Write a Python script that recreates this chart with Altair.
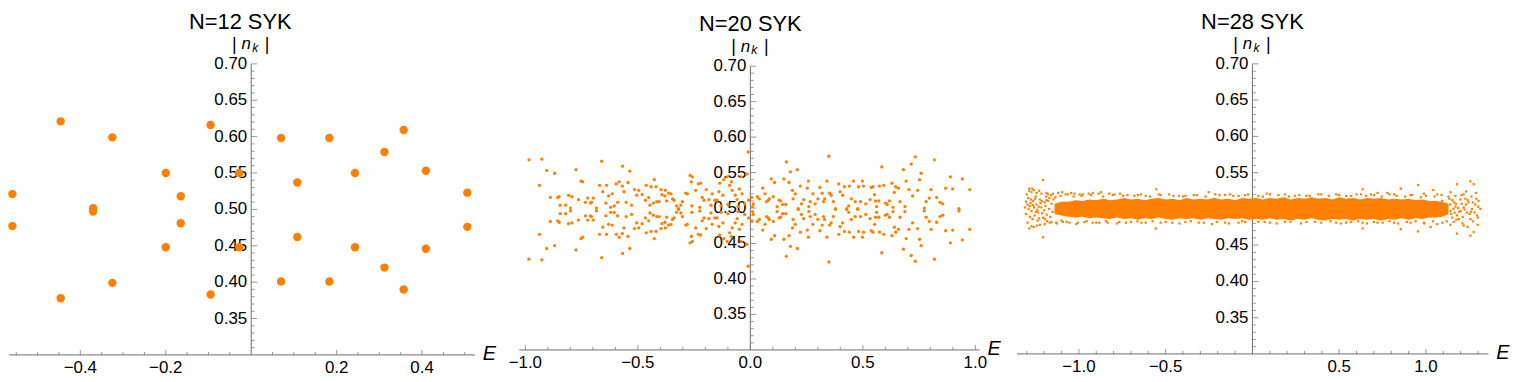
import altair as alt
import pandas as pd

ORANGE = "#ff8000"
AXIS = "#6e6e6e"
FONT = "Liberation Sans"

# ---------------- N=12 panel ----------------
e12 = [-0.559, -0.559, -0.446, -0.446, -0.370, -0.370, -0.325, -0.325, -0.200, -0.200,
       -0.165, -0.165, -0.095, -0.095, -0.028, -0.028, 0.070, 0.070, 0.108, 0.108,
       0.183, 0.183, 0.243, 0.243, 0.312, 0.312, 0.357, 0.357, 0.409, 0.409, 0.506, 0.506]
n12 = [0.521, 0.477, 0.621, 0.378, 0.5015, 0.497, 0.599, 0.399, 0.550, 0.448,
       0.518, 0.481, 0.616, 0.383, 0.550, 0.448, 0.598, 0.401, 0.537, 0.462,
       0.598, 0.401, 0.550, 0.448, 0.579, 0.420, 0.609, 0.390, 0.553, 0.446, 0.523, 0.476]

# ---------------- N=20 panel: (E, upper n, lower n) ----------------
p20_a = [(-0.984, 0.568, 0.428), (-0.927, 0.569, 0.427), (-0.905, 0.553, 0.443), (-0.870, 0.549, 0.447),
         (-0.937, 0.532, 0.463), (-0.889, 0.515, 0.481), (-0.856, 0.515, 0.482), (-0.850, 0.516, 0.480),
         (-0.845, 0.504, 0.492), (-0.821, 0.504, 0.492), (-0.808, 0.518, 0.478), (-0.793, 0.516, 0.479),
         (-0.799, 0.500, 0.496), (-0.775, 0.554, 0.441), (-0.764, 0.512, 0.483), (-0.753, 0.538, 0.457),
         (-0.745, 0.537, 0.459), (-0.733, 0.508, 0.489), (-0.723, 0.514, 0.483), (-0.711, 0.507, 0.489),
         (-0.706, 0.508, 0.488), (-0.698, 0.514, 0.483), (-0.684, 0.500, 0.496), (-0.670, 0.532, 0.463),
         (-0.661, 0.566, 0.430), (-0.656, 0.523, 0.473), (-0.642, 0.507, 0.489), (-0.639, 0.532, 0.463),
         (-0.630, 0.517, 0.477), (-0.621, 0.501, 0.494), (-0.614, 0.520, 0.476), (-0.605, 0.503, 0.494),
         (-0.596, 0.534, 0.463), (-0.590, 0.508, 0.489), (-0.583, 0.537, 0.459), (-0.569, 0.531, 0.464),
         (-0.568, 0.559, 0.436), (-0.562, 0.523, 0.472), (-0.552, 0.508, 0.488), (-0.544, 0.536, 0.460),
         (-0.536, 0.552, 0.443), (-0.528, 0.504, 0.491)]
p20_b = [(-0.515, 0.526, 0.471), (-0.496, 0.525, 0.472), (-0.505, 0.518, 0.479), (-0.481, 0.519, 0.478),
         (-0.463, 0.532, 0.465), (-0.441, 0.530, 0.467), (-0.427, 0.540, 0.457), (-0.419, 0.530, 0.467),
         (-0.466, 0.511, 0.486), (-0.452, 0.515, 0.482), (-0.446, 0.504, 0.493), (-0.431, 0.507, 0.490),
         (-0.416, 0.509, 0.488), (-0.405, 0.509, 0.488), (-0.397, 0.526, 0.471), (-0.378, 0.525, 0.472),
         (-0.393, 0.519, 0.478), (-0.380, 0.517, 0.480), (-0.372, 0.510, 0.487), (-0.364, 0.521, 0.476),
         (-0.353, 0.520, 0.477), (-0.346, 0.513, 0.484), (-0.339, 0.511, 0.486), (-0.328, 0.503, 0.494),
         (-0.319, 0.499, 0.498), (-0.309, 0.504, 0.493), (-0.302, 0.509, 0.488), (-0.287, 0.521, 0.476),
         (-0.280, 0.520, 0.477), (-0.268, 0.546, 0.451), (-0.258, 0.544, 0.453), (-0.262, 0.537, 0.460),
         (-0.243, 0.525, 0.472), (-0.231, 0.534, 0.463), (-0.221, 0.535, 0.462), (-0.214, 0.515, 0.482),
         (-0.206, 0.511, 0.486), (-0.196, 0.526, 0.471), (-0.184, 0.512, 0.485), (-0.170, 0.520, 0.477),
         (-0.158, 0.511, 0.486), (-0.148, 0.511, 0.486), (-0.136, 0.535, 0.462), (-0.140, 0.523, 0.474),
         (-0.122, 0.518, 0.479), (-0.118, 0.540, 0.457), (-0.103, 0.544, 0.453), (-0.092, 0.532, 0.465),
         (-0.081, 0.525, 0.472), (-0.084, 0.537, 0.460), (-0.067, 0.518, 0.479), (-0.059, 0.512, 0.485),
         (-0.049, 0.527, 0.470), (-0.037, 0.520, 0.477), (-0.040, 0.544, 0.453), (-0.015, 0.548, 0.449),
         (-0.008, 0.511, 0.486), (-0.025, 0.506, 0.491), (-0.055, 0.502, 0.495), (-0.100, 0.505, 0.492),
         (-0.130, 0.503, 0.494), (-0.175, 0.504, 0.493), (-0.225, 0.501, 0.496), (-0.260, 0.503, 0.494),
         (-0.010, 0.579, 0.418)]
p20_c = [(0.006, 0.515, 0.482), (0.013, 0.506, 0.491), (0.010, 0.502, 0.495), (0.031, 0.516, 0.481),
         (0.040, 0.513, 0.484), (0.055, 0.528, 0.469), (0.065, 0.520, 0.477), (0.072, 0.509, 0.488),
         (0.080, 0.511, 0.486), (0.084, 0.513, 0.484), (0.093, 0.541, 0.456), (0.108, 0.536, 0.461),
         (0.102, 0.516, 0.481), (0.119, 0.502, 0.495), (0.128, 0.511, 0.486), (0.134, 0.510, 0.487),
         (0.143, 0.505, 0.492), (0.157, 0.505, 0.492), (0.160, 0.565, 0.432), (0.149, 0.541, 0.456),
         (0.172, 0.536, 0.461), (0.178, 0.551, 0.446), (0.187, 0.525, 0.472), (0.190, 0.513, 0.484),
         (0.200, 0.520, 0.477), (0.209, 0.554, 0.443), (0.213, 0.499, 0.498), (0.222, 0.531, 0.466),
         (0.227, 0.506, 0.491), (0.237, 0.512, 0.485), (0.253, 0.528, 0.469), (0.258, 0.538, 0.459),
         (0.260, 0.502, 0.495), (0.266, 0.509, 0.488), (0.278, 0.520, 0.477), (0.288, 0.506, 0.491),
         (0.300, 0.513, 0.484), (0.309, 0.529, 0.468), (0.319, 0.521, 0.476), (0.325, 0.509, 0.488),
         (0.330, 0.513, 0.484), (0.340, 0.538, 0.459), (0.349, 0.573, 0.424), (0.352, 0.521, 0.476),
         (0.359, 0.518, 0.479), (0.369, 0.509, 0.488), (0.378, 0.499, 0.498), (0.393, 0.534, 0.463),
         (0.399, 0.523, 0.474), (0.410, 0.518, 0.479), (0.418, 0.530, 0.467), (0.428, 0.499, 0.498),
         (0.437, 0.503, 0.494), (0.440, 0.531, 0.466), (0.449, 0.513, 0.484), (0.459, 0.538, 0.459),
         (0.466, 0.509, 0.488), (0.477, 0.499, 0.498), (0.481, 0.530, 0.467), (0.498, 0.538, 0.459),
         (0.490, 0.509, 0.488), (0.503, 0.531, 0.466), (0.513, 0.506, 0.491)]
p20_d = [(0.537, 0.529, 0.468), (0.545, 0.530, 0.466), (0.552, 0.519, 0.477), (0.532, 0.512, 0.485),
         (0.556, 0.510, 0.487), (0.571, 0.510, 0.487), (0.574, 0.531, 0.466), (0.593, 0.532, 0.463),
         (0.584, 0.558, 0.437), (0.600, 0.507, 0.490), (0.608, 0.505, 0.491), (0.561, 0.502, 0.494),
         (0.618, 0.510, 0.487), (0.629, 0.535, 0.461), (0.634, 0.501, 0.495), (0.640, 0.522, 0.473),
         (0.646, 0.530, 0.466), (0.658, 0.528, 0.470), (0.665, 0.509, 0.487), (0.680, 0.554, 0.442),
         (0.687, 0.502, 0.495), (0.692, 0.538, 0.457), (0.705, 0.526, 0.470), (0.715, 0.562, 0.433),
         (0.721, 0.517, 0.479), (0.733, 0.572, 0.425), (0.743, 0.525, 0.471), (0.752, 0.540, 0.456),
         (0.759, 0.549, 0.447), (0.773, 0.500, 0.496), (0.781, 0.509, 0.487), (0.795, 0.514, 0.481),
         (0.803, 0.526, 0.470), (0.818, 0.568, 0.428), (0.828, 0.515, 0.480), (0.843, 0.508, 0.488),
         (0.855, 0.506, 0.490), (0.868, 0.528, 0.468), (0.889, 0.544, 0.451), (0.899, 0.527, 0.469),
         (0.927, 0.499, 0.496), (0.942, 0.541, 0.455), (0.975, 0.526, 0.470)]

# ---------------- N=28 panel: dense core band (ragged edges) + scattered fringe ----------------
core_e = [-1.14, -1.10, -1.06, -1.02, -0.98, -0.94, -0.90, -0.86, -0.82, -0.78, -0.74,
          -0.70, -0.66, -0.62, -0.58, -0.54, -0.50, -0.46, -0.42, -0.38, -0.34, -0.30, -0.26, -0.22,
          -0.18, -0.14, -0.10, -0.06, -0.02, 0.02, 0.06, 0.10, 0.14, 0.18, 0.22, 0.26, 0.30, 0.34,
          0.38, 0.42, 0.46, 0.50, 0.54, 0.58, 0.62, 0.66, 0.70, 0.74, 0.78, 0.82, 0.86, 0.90, 0.94,
          0.98, 1.02, 1.06, 1.10, 1.13]
core_hi = [0.507, 0.510, 0.510, 0.512, 0.511, 0.513, 0.512, 0.514, 0.512, 0.513, 0.515,
           0.513, 0.514, 0.512, 0.514, 0.515, 0.513, 0.514, 0.512, 0.515, 0.513, 0.514, 0.513, 0.515,
           0.513, 0.514, 0.512, 0.515, 0.514, 0.515, 0.513, 0.515, 0.514, 0.516, 0.513, 0.515, 0.514, 0.516,
           0.514, 0.515, 0.513, 0.516, 0.514, 0.515, 0.513, 0.515, 0.514, 0.515, 0.513, 0.514, 0.513, 0.514, 0.512,
           0.513, 0.511, 0.511, 0.509, 0.507]
core_lo = [0.493, 0.491, 0.489, 0.488, 0.489, 0.487, 0.488, 0.487, 0.486, 0.488, 0.486,
           0.487, 0.485, 0.487, 0.486, 0.488, 0.486, 0.485, 0.487, 0.486, 0.487, 0.485, 0.487, 0.486,
           0.485, 0.487, 0.486, 0.487, 0.485, 0.486, 0.485, 0.487, 0.485, 0.486, 0.484, 0.486, 0.485, 0.487,
           0.485, 0.484, 0.486, 0.485, 0.486, 0.484, 0.486, 0.485, 0.486, 0.484, 0.486, 0.485, 0.487, 0.485, 0.487,
           0.486, 0.488, 0.488, 0.490, 0.493]

fringe_left = [(-1.206, 0.540), (-1.286, 0.528), (-1.269, 0.528), (-1.286, 0.525), (-1.273, 0.523), (-1.260, 0.526),
               (-1.244, 0.522), (-1.229, 0.525), (-1.216, 0.521), (-1.187, 0.522), (-1.178, 0.520), (-1.149, 0.521),
               (-1.120, 0.522), (-1.096, 0.523), (-1.076, 0.520), (-1.044, 0.522), (-1.025, 0.521), (-0.996, 0.520),
               (-0.977, 0.520), (-0.943, 0.521), (-0.920, 0.522), (-0.886, 0.521), (-0.872, 0.523), (-0.825, 0.521),
               (-0.805, 0.519), (-0.763, 0.521), (-0.720, 0.519), (-0.681, 0.518), (-0.643, 0.520), (-0.615, 0.518),
               (-0.554, 0.527), (-0.529, 0.519), (-0.481, 0.520), (-0.424, 0.518), (-0.386, 0.518), (-0.338, 0.519),
               (-0.252, 0.523), (-0.214, 0.520), (-0.157, 0.519), (-0.128, 0.520), (-0.080, 0.518), (-0.042, 0.519),
               (-1.206, 0.461), (-1.286, 0.473), (-1.273, 0.476), (-1.260, 0.475), (-1.241, 0.477), (-1.225, 0.478),
               (-1.197, 0.479), (-1.168, 0.481), (-1.130, 0.481), (-1.092, 0.482), (-1.054, 0.481), (-1.006, 0.481),
               (-0.968, 0.482), (-0.920, 0.481), (-0.882, 0.481), (-0.834, 0.481), (-0.767, 0.482), (-0.729, 0.481),
               (-0.662, 0.483), (-0.615, 0.481), (-0.557, 0.473), (-0.529, 0.481), (-0.462, 0.481), (-0.386, 0.482),
               (-0.309, 0.481), (-0.233, 0.479), (-0.157, 0.481), (-0.080, 0.481), (-0.042, 0.482),
               (-1.305, 0.510), (-1.305, 0.493), (-1.292, 0.515), (-1.283, 0.504), (-1.273, 0.497), (-1.263, 0.511),
               (-1.254, 0.491), (-1.244, 0.506), (-1.235, 0.495), (-1.225, 0.513), (-1.216, 0.502), (-1.206, 0.488),
               (-1.197, 0.509), (-1.267, 0.486), (-1.248, 0.517), (-1.229, 0.487), (-1.311, 0.502),
               (-1.290, 0.500), (-1.278, 0.508), (-1.258, 0.502), (-1.239, 0.499), (-1.221, 0.508), (-1.212, 0.494),
               (-1.300, 0.520), (-1.296, 0.481), (-1.282, 0.489), (-1.252, 0.514), (-1.238, 0.484),
               (-1.200, 0.498), (-1.192, 0.504), (-1.185, 0.492), (-1.178, 0.511), (-1.172, 0.500), (-1.165, 0.489),
               (-1.158, 0.507), (-1.152, 0.496), (-1.146, 0.513), (-1.170, 0.515), (-1.196, 0.486), (-1.188, 0.512),
               (-1.264, 0.505), (-1.276, 0.513), (-1.296, 0.506), (-1.247, 0.496), (-1.231, 0.503), (-1.214, 0.511),
               (-1.189, 0.517), (-1.183, 0.483), (-1.160, 0.519), (-1.158, 0.482), (-1.135, 0.516), (-1.128, 0.480),
               (-1.105, 0.518), (-1.100, 0.484), (-1.062, 0.520), (-1.070, 0.482), (-1.030, 0.517), (-1.015, 0.479),
               (-0.985, 0.518), (-0.955, 0.483), (-0.930, 0.519), (-0.900, 0.481), (-0.860, 0.517), (-0.845, 0.483),
               (-0.795, 0.520), (-0.780, 0.480), (-0.745, 0.518), (-0.700, 0.482), (-0.660, 0.519), (-0.640, 0.481),
               (-0.590, 0.517), (-0.575, 0.483), (-0.540, 0.520), (-0.500, 0.482), (-0.455, 0.518), (-0.420, 0.480),
               (-0.400, 0.517), (-0.355, 0.483), (-0.320, 0.519), (-0.280, 0.481), (-0.270, 0.517), (-0.205, 0.482),
               (-0.190, 0.519), (-0.135, 0.480), (-0.110, 0.518), (-0.060, 0.483), (-0.025, 0.520)]
fringe_right = [(0.635, 0.527), (0.855, 0.528), (0.954, 0.533), (1.042, 0.526), (1.179, 0.534), (1.256, 0.538),
                (1.275, 0.534), (1.217, 0.520), (1.141, 0.523), (1.065, 0.520), (0.988, 0.521), (0.912, 0.519),
                (0.817, 0.520), (0.778, 0.522), (0.721, 0.522), (0.683, 0.520), (0.626, 0.520), (0.569, 0.518),
                (0.483, 0.520), (0.397, 0.520), (0.311, 0.518), (0.244, 0.518), (0.187, 0.520), (0.101, 0.520),
                (0.034, 0.518), (0.082, 0.521),
                (0.635, 0.473), (0.855, 0.472), (0.954, 0.469), (1.027, 0.475), (1.179, 0.466), (1.256, 0.463),
                (1.275, 0.468), (1.217, 0.477), (1.141, 0.478), (1.065, 0.479), (0.988, 0.481), (0.912, 0.481),
                (0.817, 0.481), (0.721, 0.481), (0.635, 0.481), (0.569, 0.482), (0.483, 0.481), (0.397, 0.481),
                (0.311, 0.482), (0.187, 0.482), (0.101, 0.481), (0.034, 0.482),
                (1.093, 0.511), (1.122, 0.504), (1.141, 0.497), (1.160, 0.509), (1.179, 0.491), (1.198, 0.513),
                (1.217, 0.502), (1.236, 0.495), (1.246, 0.509), (1.265, 0.500), (1.284, 0.506), (1.294, 0.491),
                (1.303, 0.511), (1.313, 0.500), (1.256, 0.486), (1.227, 0.514), (1.189, 0.486), (1.151, 0.488),
                (1.112, 0.493), (1.084, 0.490),
                (1.140, 0.506), (1.146, 0.493), (1.152, 0.512), (1.158, 0.500), (1.165, 0.495), (1.172, 0.507),
                (1.185, 0.501), (1.192, 0.496), (1.206, 0.507), (1.212, 0.489), (1.222, 0.499), (1.240, 0.512),
                (1.251, 0.493), (1.270, 0.509), (1.290, 0.514), (1.300, 0.488), (1.175, 0.485), (1.135, 0.514),
                (1.205, 0.519), (1.232, 0.524), (1.262, 0.517), (1.288, 0.522), (1.210, 0.480), (1.240, 0.475),
                (1.270, 0.483), (1.298, 0.478), (1.170, 0.518), (1.130, 0.517), (1.160, 0.482), (1.120, 0.483),
                (1.090, 0.519), (1.050, 0.517), (1.095, 0.481), (1.040, 0.483), (1.000, 0.518), (0.970, 0.516),
                (0.990, 0.480), (0.940, 0.483), (0.920, 0.519), (0.880, 0.517), (0.890, 0.482), (0.840, 0.480),
                (0.830, 0.518), (0.790, 0.520), (0.790, 0.483), (0.750, 0.481), (0.745, 0.517), (0.700, 0.519),
                (0.700, 0.482), (0.660, 0.480), (0.655, 0.518), (0.600, 0.520), (0.610, 0.483), (0.540, 0.481),
                (0.540, 0.518), (0.500, 0.519), (0.510, 0.480), (0.450, 0.483), (0.440, 0.518), (0.380, 0.520),
                (0.360, 0.482), (0.330, 0.518), (0.280, 0.480), (0.270, 0.519), (0.220, 0.482), (0.210, 0.517),
                (0.140, 0.480), (0.150, 0.519), (0.070, 0.482), (0.060, 0.517), (1.260, 0.496), (1.300, 0.503),
                (1.280, 0.495), (1.230, 0.506), (1.200, 0.497), (1.170, 0.503)]

# ---------------- axes: ticks and labels ----------------
y_major = [0.35, 0.40, 0.45, 0.50, 0.55, 0.60, 0.65, 0.70]
y_labels = ["0.35", "0.40", "0.45", "0.50", "0.55", "0.60", "0.65", "0.70"]
y_minor = [0.31, 0.32, 0.33, 0.34, 0.36, 0.37, 0.38, 0.39, 0.41, 0.42, 0.43, 0.44, 0.46, 0.47, 0.48, 0.49,
           0.51, 0.52, 0.53, 0.54, 0.56, 0.57, 0.58, 0.59, 0.61, 0.62, 0.63, 0.64, 0.66, 0.67, 0.68, 0.69]

x1_major = [-0.4, -0.2, 0.2, 0.4]
x1_labels = ["\u22120.4", "\u22120.2", "0.2", "0.4"]
x1_minor = [-0.55, -0.5, -0.45, -0.35, -0.3, -0.25, -0.15, -0.1, -0.05,
            0.05, 0.1, 0.15, 0.25, 0.3, 0.35, 0.45, 0.5]

x2_major = [-1.0, -0.5, 0.0, 0.5, 1.0]
x2_labels = ["\u22121.0", "\u22120.5", "0.0", "0.5", "1.0"]
x2_minor = [-0.9, -0.8, -0.7, -0.6, -0.4, -0.3, -0.2, -0.1, 0.1, 0.2, 0.3, 0.4, 0.6, 0.7, 0.8, 0.9]

x3_major = [-1.0, -0.5, 0.5, 1.0]
x3_labels = ["\u22121.0", "\u22120.5", "0.5", "1.0"]
x3_minor = [-1.3, -1.2, -1.1, -0.9, -0.8, -0.7, -0.6, -0.4, -0.3, -0.2, -0.1,
            0.1, 0.2, 0.3, 0.4, 0.6, 0.7, 0.8, 0.9, 1.1, 1.2, 1.3]

titles = ["N=12 SYK", "N=20 SYK", "N=28 SYK"]


def enc(xs, ys, x="e", y="n"):
    return dict(x=alt.X(f"{x}:Q", scale=xs, axis=None),
                y=alt.Y(f"{y}:Q", scale=ys, axis=None))


def frame_layers(xs, ys, ax_min, ax_max, xmaj, xlab, xmin, title, title_dx):
    layers = []
    # axis lines
    layers.append(alt.Chart(pd.DataFrame({"e": [ax_min], "e2": [ax_max], "n": [0.30]}))
                  .mark_rule(color=AXIS, strokeWidth=1)
                  .encode(x2="e2:Q", **enc(xs, ys)))
    layers.append(alt.Chart(pd.DataFrame({"e": [0.0], "n": [0.30], "n2": [0.70]}))
                  .mark_rule(color=AXIS, strokeWidth=1)
                  .encode(y2="n2:Q", **enc(xs, ys)))
    # x ticks (pointing up)
    layers.append(alt.Chart(pd.DataFrame({"e": xmaj, "n": [0.30] * len(xmaj)}))
                  .mark_tick(orient="vertical", size=5, thickness=1, yOffset=-2.5, color=AXIS)
                  .encode(**enc(xs, ys)))
    layers.append(alt.Chart(pd.DataFrame({"e": xmin, "n": [0.30] * len(xmin)}))
                  .mark_tick(orient="vertical", size=3, thickness=1, yOffset=-1.5, color=AXIS)
                  .encode(**enc(xs, ys)))
    # y ticks (pointing right)
    layers.append(alt.Chart(pd.DataFrame({"e": [0.0] * len(y_major), "n": y_major}))
                  .mark_tick(orient="horizontal", size=6, thickness=1, xOffset=3, color=AXIS)
                  .encode(**enc(xs, ys)))
    layers.append(alt.Chart(pd.DataFrame({"e": [0.0] * len(y_minor), "n": y_minor}))
                  .mark_tick(orient="horizontal", size=3.5, thickness=1, xOffset=1.75, color=AXIS)
                  .encode(**enc(xs, ys)))
    # tick labels
    layers.append(alt.Chart(pd.DataFrame({"e": xmaj, "n": [0.30] * len(xmaj), "t": xlab}))
                  .mark_text(font=FONT, fontSize=17, baseline="middle", align="center", dy=13, color="black")
                  .encode(text="t:N", **enc(xs, ys)))
    layers.append(alt.Chart(pd.DataFrame({"e": [0.0] * len(y_major), "n": y_major, "t": y_labels}))
                  .mark_text(font=FONT, fontSize=17, baseline="middle", align="right", dx=-4, color="black")
                  .encode(text="t:N", **enc(xs, ys)))
    # axis labels  |n_k|
    top = pd.DataFrame({"e": [0.0], "n": [0.70]})
    layers.append(alt.Chart(top).mark_text(text="|", font=FONT, fontSize=18, baseline="middle",
                                           dx=-17, dy=-19, color="black").encode(**enc(xs, ys)))
    layers.append(alt.Chart(top).mark_text(text="n", font=FONT, fontSize=17, fontStyle="italic",
                                           baseline="alphabetic", dx=-5, dy=-14.5, color="black")
                  .encode(**enc(xs, ys)))
    layers.append(alt.Chart(top).mark_text(text="k", font=FONT, fontSize=12, fontStyle="italic",
                                           baseline="alphabetic", dx=4, dy=-12, color="black")
                  .encode(**enc(xs, ys)))
    layers.append(alt.Chart(top).mark_text(text="|", font=FONT, fontSize=18, baseline="middle",
                                           dx=16, dy=-19, color="black").encode(**enc(xs, ys)))
    # panel title
    layers.append(alt.Chart(top).mark_text(text=title, font=FONT, fontSize=22, baseline="alphabetic",
                                           dx=title_dx, dy=-35, color="black").encode(**enc(xs, ys)))
    right = pd.DataFrame({"e": [ax_max], "n": [0.30]})
    layers.append(alt.Chart(right).mark_text(text="E", font=FONT, fontSize=20, fontStyle="italic",
                                             baseline="middle", align="left", dx=8, dy=-1, color="black")
                  .encode(**enc(xs, ys)))
    return layers


# ---- panel 1
xs1 = alt.Scale(domain=[-0.567, 0.5237], nice=False, zero=False)
ys1 = alt.Scale(domain=[0.30, 0.70], nice=False, zero=False)
pts1 = (alt.Chart(pd.DataFrame({"e": e12, "n": n12}))
        .mark_circle(size=72, color=ORANGE, opacity=1)
        .encode(**enc(xs1, ys1)))
panel1 = alt.layer(*frame_layers(xs1, ys1, -0.567, 0.5237, x1_major, x1_labels, x1_minor, titles[0], -11),
                   pts1).properties(width=469, height=293)

# ---- panel 2
rows20 = p20_a + p20_b + p20_c + p20_d
df20 = pd.DataFrame({"e": [r[0] for r in rows20] + [r[0] for r in rows20],
                     "n": [r[1] for r in rows20] + [r[2] for r in rows20]})
xs2 = alt.Scale(domain=[-1.1801, 1.1422], nice=False, zero=False)
ys2 = alt.Scale(domain=[0.30, 0.7032], nice=False, zero=False)
pts2 = alt.Chart(df20).mark_circle(size=11, color=ORANGE, opacity=1).encode(**enc(xs2, ys2))
panel2 = alt.layer(*frame_layers(xs2, ys2, -1.027, 1.019, x2_major, x2_labels, x2_minor, titles[1], 0),
                   pts2).properties(width=526, height=288)

# ---- panel 3
xs3 = alt.Scale(domain=[-1.3549, 1.3641], nice=False, zero=False)
ys3 = alt.Scale(domain=[0.30, 0.70], nice=False, zero=False)
core = (alt.Chart(pd.DataFrame({"e": core_e, "n": core_hi, "n2": core_lo}))
        .mark_area(color=ORANGE, opacity=1)
        .encode(y2="n2:Q", **enc(xs3, ys3)))
fr = fringe_left + fringe_right
pts3 = (alt.Chart(pd.DataFrame({"e": [p[0] for p in fr], "n": [p[1] for p in fr]}))
        .mark_square(size=5, color=ORANGE, opacity=1)
        .encode(**enc(xs3, ys3)))
panel3 = alt.layer(*frame_layers(xs3, ys3, -1.357, 1.36, x3_major, x3_labels, x3_minor, titles[2], 0),
                   core, pts3).properties(width=475, height=292)

chart = (alt.hconcat(panel1, panel2, panel3, spacing=10, bounds="flush")
         .properties(padding={"top": 2, "left": 0, "right": 0, "bottom": 0})
         .configure(font=FONT)
         .configure_view(strokeWidth=0, stroke="transparent"))

chart.save("out.html", embed_options={"renderer": "svg", "actions": False})
